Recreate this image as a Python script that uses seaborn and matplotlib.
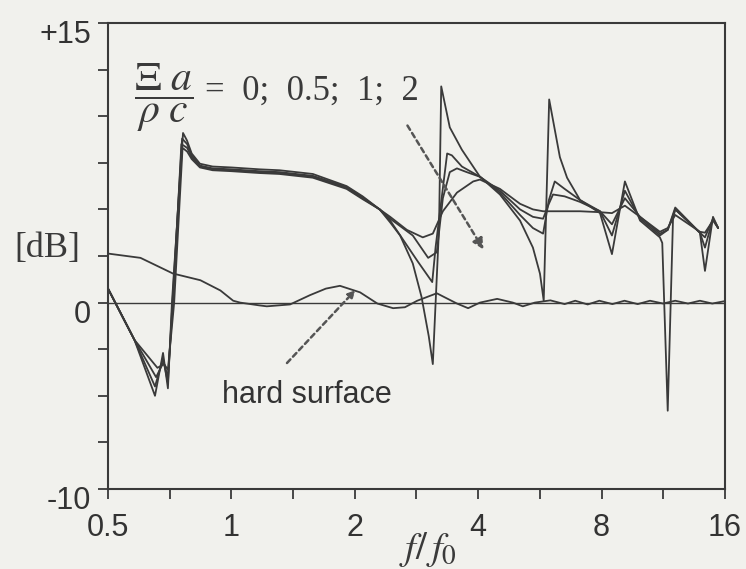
import numpy as np
import matplotlib
matplotlib.use("Agg")
import matplotlib.pyplot as plt
import matplotlib.transforms as mtransforms
from matplotlib.ticker import FixedLocator, FixedFormatter, NullLocator
import seaborn as sns

# --- data (f/f0, level in dB) ---
f_xi0 = [0.5, 0.58, 0.651, 0.681, 0.70, 0.716, 0.762, 0.779, 0.80, 0.838, 0.90, 1.0, 1.17, 1.31,
         1.58, 1.91, 2.09, 2.30, 2.44, 2.58, 2.77, 2.91, 3.03, 3.10, 3.21, 3.25, 3.41, 3.65, 4.04,
         4.52, 5.06, 5.44, 5.66, 5.78, 5.96, 6.33, 6.59, 7.09, 7.93, 8.48, 9.12, 9.93, 11.1, 11.25,
         11.6, 11.95, 12.1, 13.9, 14.3, 14.96, 15.4]
db_xi0 = [0.75, -2.0, -5.0, -2.7, -4.6, 0.0, 9.1, 8.7, 8.0, 7.45, 7.3, 7.25, 7.15, 7.1,
          6.9, 6.25, 5.7, 5.0, 4.3, 3.6, 2.1, 0.3, -1.8, -3.3, 4.0, 11.6, 9.4, 8.2, 6.75,
          5.8, 4.4, 2.95, 1.55, 0.1, 10.9, 7.8, 6.7, 5.5, 4.8, 2.6, 6.5, 4.4, 3.5, 3.2,
          -5.8, 4.5, 5.0, 3.75, 1.7, 4.6, 4.0]

f_xi05 = [0.5, 0.58, 0.651, 0.681, 0.70, 0.718, 0.758, 0.78, 0.80, 0.838, 0.90, 1.0, 1.17, 1.31,
          1.58, 1.91, 2.09, 2.30, 2.44, 2.60, 2.85, 3.09, 3.15, 3.36, 3.45, 3.65, 4.04, 4.52,
          5.06, 5.44, 5.76, 5.95, 6.15, 6.5, 7.09, 7.93, 8.48, 9.12, 9.93, 11.1, 11.6, 12.1,
          13.9, 14.3, 14.96, 15.4]
db_xi05 = [0.75, -2.0, -4.5, -3.0, -4.3, 0.0, 8.8, 8.5, 7.9, 7.35, 7.2, 7.15, 7.05, 7.0,
           6.8, 6.2, 5.65, 5.0, 4.4, 3.5, 2.2, 1.1, 3.0, 8.0, 7.9, 7.3, 6.75, 5.9,
           4.7, 4.0, 3.7, 5.5, 6.5, 6.1, 5.5, 4.9, 3.6, 6.0, 4.5, 3.6, 3.9, 5.1,
           3.75, 2.95, 4.5, 4.0]

f_xi1 = [0.5, 0.58, 0.655, 0.683, 0.70, 0.72, 0.755, 0.78, 0.80, 0.838, 0.90, 1.0, 1.17, 1.31,
         1.58, 1.91, 2.09, 2.30, 2.44, 2.77, 3.02, 3.17, 3.28, 3.41, 3.55, 3.75, 4.04, 4.52,
         5.06, 5.44, 5.76, 5.95, 6.09, 6.5, 7.09, 7.93, 8.48, 9.12, 9.93, 11.1, 11.6, 12.1,
         13.9, 14.3, 14.96, 15.4]
db_xi1 = [0.75, -2.0, -4.0, -3.2, -4.0, 0.0, 8.5, 8.3, 7.8, 7.3, 7.15, 7.1, 7.0, 6.95,
          6.75, 6.15, 5.6, 5.0, 4.5, 3.6, 2.4, 2.7, 5.6, 7.0, 7.2, 7.0, 6.75, 6.0,
          5.0, 4.6, 4.5, 5.3, 5.8, 5.7, 5.4, 4.9, 4.2, 5.6, 4.6, 3.7, 3.9, 5.0,
          3.75, 3.5, 4.5, 4.0]

f_xi2 = [0.5, 0.58, 0.66, 0.685, 0.70, 0.725, 0.76, 0.78, 0.80, 0.838, 0.90, 1.0, 1.17, 1.31,
         1.58, 1.91, 2.09, 2.30, 2.44, 2.68, 2.93, 3.10, 3.28, 3.55, 3.89, 4.04, 4.52, 5.06,
         5.44, 5.76, 6.09, 6.5, 7.09, 7.93, 8.48, 9.12, 9.93, 11.1, 11.6, 12.1, 13.9, 14.3,
         14.96, 15.4]
db_xi2 = [0.75, -2.0, -3.5, -3.3, -3.6, 0.0, 8.3, 8.1, 7.7, 7.25, 7.1, 7.05, 6.95, 6.9,
          6.7, 6.1, 5.55, 5.0, 4.6, 3.9, 3.5, 3.7, 4.9, 5.9, 6.5, 6.6, 6.1, 5.3,
          5.0, 4.9, 4.9, 4.9, 4.9, 4.85, 4.8, 5.2, 4.6, 3.8, 4.0, 4.7, 3.8, 3.75,
          4.4, 4.0]

f_hard = [0.5, 0.60, 0.72, 0.84, 0.94, 1.01, 1.05, 1.17, 1.22, 1.39, 1.555, 1.70, 1.84, 2.06,
          2.27, 2.48, 2.65, 2.84, 3.17, 3.55, 3.78, 4.04, 4.45, 4.86, 5.14, 5.5, 6.0, 6.5,
          6.9, 7.4, 7.9, 8.5, 9.1, 9.8, 10.5, 11.3, 12.1, 13.0, 13.9, 14.9, 16.0]
db_hard = [2.63, 2.4, 1.56, 1.2, 0.65, 0.1, 0.0, -0.15, -0.2, -0.1, 0.4, 0.75, 0.9, 0.55,
           -0.05, -0.3, -0.25, 0.1, 0.5, -0.05, -0.3, 0.0, 0.2, 0.0, -0.2, 0.0, 0.12, -0.08,
           0.1, -0.1, 0.1, -0.08, 0.1, -0.08, 0.1, -0.05, 0.1, -0.05, 0.1, -0.05, 0.08]

x_ticks = [0.5, 0.707, 1, 1.414, 2, 2.828, 4, 5.657, 8, 11.31, 16]
x_labels = ["0.5", "", "1", "", "2", "", "4", "", "8", "", "16"]
y_ticks = [-10, -7.5, -5, -2.5, 0, 2.5, 5, 7.5, 10, 12.5, 15]
y_labels = ["-10", "", "", "", "0", "", "", "", "", "", "+15"]

bg = "#f1f1ed"
ink = "#3a3a3a"

sns.set_style("ticks")
plt.rcParams["font.family"] = ["Liberation Sans", "DejaVu Sans"]
plt.rcParams["mathtext.fontset"] = "stix"

fig = plt.figure(figsize=(7.46, 5.69), dpi=100, facecolor=bg)
ax = fig.add_axes([0.1448, 0.1406, 0.827, 0.819], facecolor=bg)

for fx, dy in [(f_xi0, db_xi0), (f_xi05, db_xi05), (f_xi1, db_xi1), (f_xi2, db_xi2), (f_hard, db_hard)]:
    sns.lineplot(x=fx, y=dy, ax=ax, color=ink, lw=1.3, estimator=None, sort=False)

ax.axhline(0, color=ink, lw=1.0, zorder=1)

ax.set_xscale("log", base=2)
ax.set_xlim(0.5, 16)
ax.set_ylim(-10, 15)
ax.xaxis.set_major_locator(FixedLocator(x_ticks))
ax.xaxis.set_major_formatter(FixedFormatter(x_labels))
ax.xaxis.set_minor_locator(NullLocator())
ax.yaxis.set_major_locator(FixedLocator(y_ticks))
ax.yaxis.set_major_formatter(FixedFormatter(y_labels))
ax.tick_params(axis="both", direction="out", length=7, width=1.3, color=ink,
               labelsize=22, labelcolor="#333333")
ax.tick_params(axis="x", pad=10)
ax.tick_params(axis="y", pad=5)
for side in ["top", "right", "bottom", "left"]:
    ax.spines[side].set_visible(True)
    ax.spines[side].set_color(ink)
    ax.spines[side].set_linewidth(1.5)

# y tick labels sit a bit below their ticks in the original
off = mtransforms.ScaledTranslation(0, -9 / 100, fig.dpi_scale_trans)
for lab in ax.get_yticklabels():
    lab.set_transform(lab.get_transform() + off)

# annotations
fig.text(0.220, 0.828, r"$\dfrac{\Xi\ a}{\rho\ c}$", fontsize=30, ha="center", va="center", color=ink)
fig.text(0.275, 0.840, "=  0;  0.5;  1;  2", fontsize=25, ha="left", va="center",
         family=["Liberation Serif", "DejaVu Serif"], color=ink)
fig.text(0.063, 0.564, "[dB]", fontsize=26, ha="center", va="center",
         family=["Liberation Serif", "DejaVu Serif"], color=ink)
fig.text(0.412, 0.306, "hard surface", fontsize=22, ha="center", va="center", color="#333333")
fig.text(0.574, 0.035, r"$f/\,f_0$", fontsize=28, ha="center", va="center", color=ink)

ax.annotate("", xy=(0.611, 0.509), xytext=(0.483, 0.785), xycoords="axes fraction",
            arrowprops=dict(arrowstyle="-|>", linestyle=(0, (2, 1.5)), lw=1.8, color="#555555",
                            mutation_scale=16))
ax.annotate("", xy=(0.404, 0.431), xytext=(0.287, 0.266), xycoords="axes fraction",
            arrowprops=dict(arrowstyle="-|>", linestyle=(0, (2, 1.5)), lw=1.8, color="#555555",
                            mutation_scale=10))

fig.savefig("out.png", dpi=100, facecolor=bg)
